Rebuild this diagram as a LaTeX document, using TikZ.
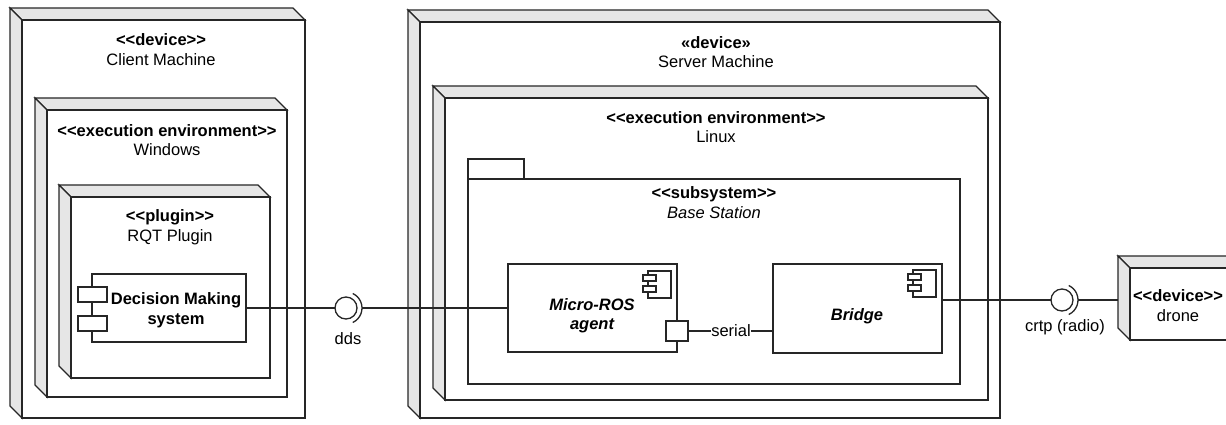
\documentclass[tikz,border=0pt]{standalone}
\usepackage{fontspec}
\usetikzlibrary{calc}
\setmainfont{Liberation Sans}
\definecolor{lc}{HTML}{262626}
\definecolor{pg}{HTML}{E6E6E6}
\newcommand{\st}[1]{<\kern0pt<#1>\kern0pt>}
\newcommand{\nodebox}[6]{%
  \draw[panel] (#2,#3) -- ({#2-#6},{#3-#6}) -- ({#4-#6},{#3-#6}) -- (#4,#3) -- cycle;
  \draw[panel] (#2,#3) -- ({#2-#6},{#3-#6}) -- ({#2-#6},{#5-#6}) -- (#2,#5) -- cycle;
  \node[face, minimum width={(#4-#2)*1pt}, minimum height={(#5-#3)*1pt}] (#1) at (#2,#3) {};
}
\newcommand{\compicon}[3]{%
  \draw[ln, fill=white] (#2,#3) rectangle ({#2+23},{#3+27});
  \draw[ln, fill=white] ({#2-5},{#3+4}) rectangle ({#2+8},{#3+10});
  \draw[ln, fill=white] ({#2-5},{#3+15}) rectangle ({#2+8},{#3+21});
}
\tikzset{
  ln/.style={draw=lc, line width=1.3pt},
  panel/.style={ln, fill=pg, line join=miter},
  face/.style={ln, fill=white, inner sep=0pt, outer sep=0pt, anchor=north west},
  lbl/.style={font=\fontsize{16.5}{19.5}\selectfont, inner sep=0pt, align=center, text=black},
  iface/.style={ln, circle, fill=white, minimum size=22pt, inner sep=0pt, outer sep=0pt},
}
\begin{document}
\begin{tikzpicture}[x=1pt, y=-1pt]
\useasboundingbox (0,0) rectangle (1226,424);
\begin{scope}
\clip (0,0) rectangle (1226,424);
% Client machine
\nodebox{client}{22}{20}{305}{418}{12}
\node[lbl] (clientlbl) at (161,49.5) {{\bfseries \st{device}}\\Client Machine};
\nodebox{win}{47}{110}{287}{397}{12}
\node[lbl] (winlbl) at (167,140) {{\bfseries \st{execution environment}}\\Windows};
\nodebox{plugin}{71}{197}{270}{378}{12}
\node[lbl] (pluginlbl) at (170,227) {{\bfseries \st{plugin}}\\RQT Plugin};
\node[face, minimum width=154pt, minimum height=68pt] (dm) at (92,274) {};
\draw[ln, fill=white] (78,287) rectangle (107,302);
\draw[ln, fill=white] (78,316) rectangle (107,331);
\node[lbl, font=\fontsize{16.5}{19.5}\selectfont\bfseries] (dmlbl) at (176,310) {Decision Making\\system};

% Server machine
\nodebox{server}{420}{22}{1000}{418}{12}
\node[lbl] (serverlbl) at (716,52) {{\bfseries «device»}\\Server Machine};
\nodebox{linux}{445}{98}{988}{400}{12}
\node[lbl] (linuxlbl) at (716,127) {{\bfseries \st{execution environment}}\\Linux};
\draw[ln, fill=white] (468,159) rectangle (524,179);
\node[face, minimum width=492pt, minimum height=205pt] (bs) at (468,179) {};
\node[lbl] (bslbl) at (714,202.5) {{\bfseries \st{subsystem}}\\\itshape Base Station};

\node[face, minimum width=169pt, minimum height=88pt] (mra) at (508,264) {};
\compicon{mraicon}{648}{271}
\node[lbl, font=\fontsize{16.5}{19.5}\selectfont\bfseries\itshape] (mralbl) at (592,315.5) {Micro-ROS\\agent};
\node[face, minimum width=169pt, minimum height=89pt] (br) at (773,264) {};
\compicon{bricon}{913}{270}
\node[lbl, font=\fontsize{16.5}{19.5}\selectfont\bfseries\itshape] (brlbl) at (857,316) {Bridge};
\node[ln, fill=white, minimum width=22pt, minimum height=20pt, inner sep=0pt, outer sep=0pt] (port) at (677,331) {};
\node[lbl, inner sep=0.5pt] (serial) at (731,331) {serial};

% Drone
\nodebox{drone}{1130}{268}{1245}{340}{12}
\node[lbl] (dronelbl) at (1178,305.5) {{\bfseries \st{device}}\\drone};
\end{scope}

% Interfaces
\node[iface] (dds) at (346,308) {};
\draw[ln] (dds.center) ++(-65:16pt) arc[start angle=-65, end angle=65, radius=16pt];
\coordinate (ddsr) at ($(dds.center)+(16pt,0)$);
\node[lbl] (ddslbl) at (348,339) {dds};

\node[iface] (crtp) at (1062,300) {};
\draw[ln] (crtp.center) ++(-65:16pt) arc[start angle=-65, end angle=65, radius=16pt];
\coordinate (crtpr) at ($(crtp.center)+(16pt,0)$);
\node[lbl] (crtplbl) at (1065,327) {crtp (radio)};
\coordinate (dronein) at (1118,300);

% Connectors
\draw[ln] (dm.east) -- (dm.east -| dds.west);
\draw[ln] (ddsr) -- (ddsr -| mra.west);
\draw[ln] (port.east) -- (serial.west);
\draw[ln] (serial.east) -- (serial.east -| br.west);
\draw[ln] (br.east |- crtp.west) -- (crtp.west);
\draw[ln] (crtpr) -- (dronein);
\end{tikzpicture}
\end{document}
